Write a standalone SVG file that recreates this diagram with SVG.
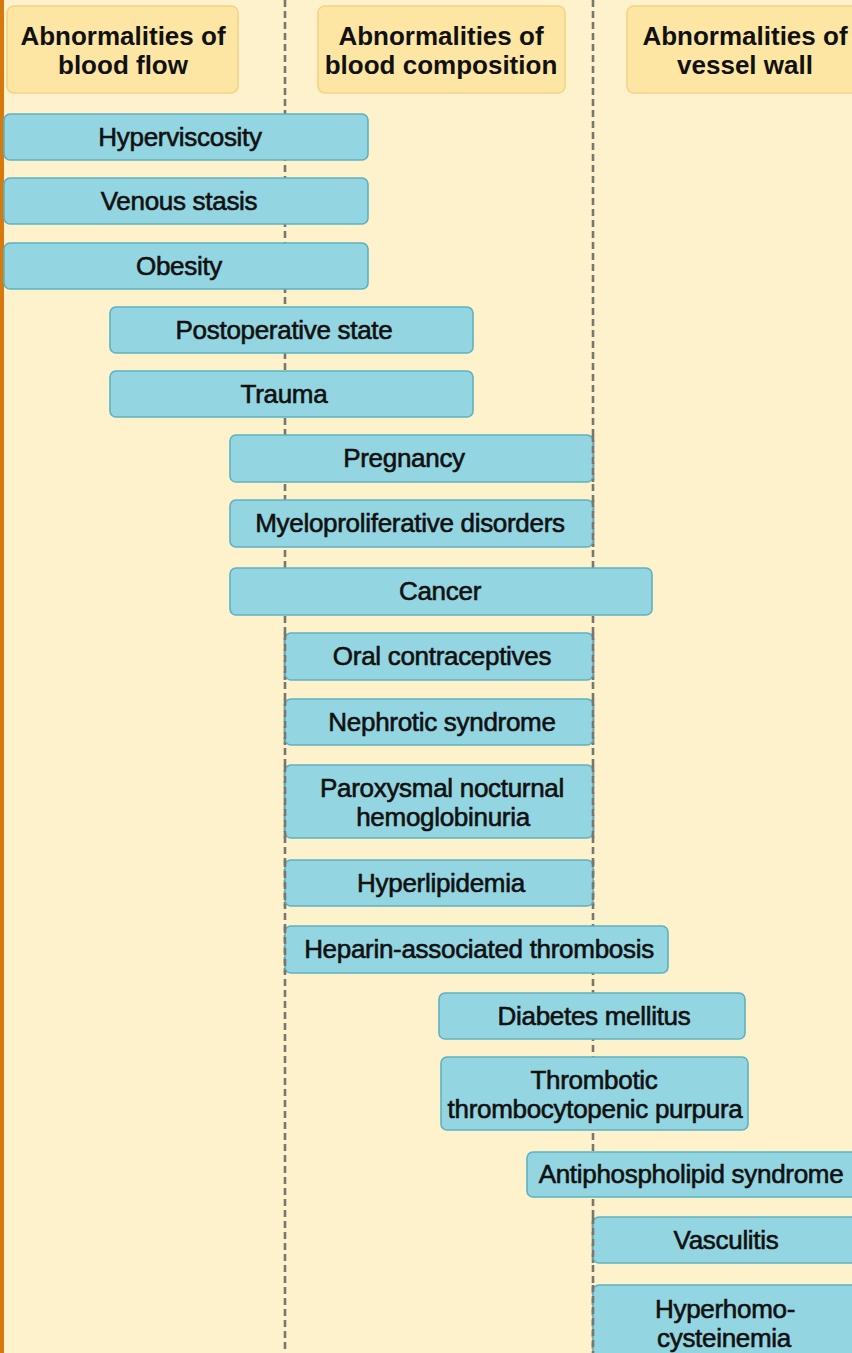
<svg xmlns="http://www.w3.org/2000/svg" width="852" height="1353" viewBox="0 0 852 1353">
<style>
.box{fill:#93D5E0;stroke:#5FB1C0;stroke-width:1.6}
.hdr{fill:#FDE6A4;stroke:#F4D384;stroke-width:1.6}
.t{font-family:"Liberation Sans",Arial,sans-serif;font-size:26px;fill:#111;text-anchor:middle;stroke:#111;stroke-width:0.6;letter-spacing:-0.3px}
.h{font-family:"Liberation Sans",Arial,sans-serif;font-size:26px;font-weight:bold;fill:#111;text-anchor:middle}
.dash{stroke:#77776F;stroke-width:2.6;stroke-dasharray:7 4;fill:none}
</style>
<rect x="0" y="0" width="852" height="1353" fill="#FDF2CC"/>
<rect x="0" y="0" width="4" height="1353" fill="#D77A0E"/>
<g id="connectors">
<line class="dash" x1="285" y1="0" x2="285" y2="1353"/>
<line class="dash" x1="593" y1="0" x2="593" y2="1353"/>
</g>
<g id="header-flow"><rect class="hdr" x="7" y="6" width="231" height="87" rx="7"/><text class="h" x="123" y="45">Abnormalities of</text><text class="h" x="123" y="74">blood flow</text></g>
<g id="header-composition"><rect class="hdr" x="318" y="6" width="247" height="87" rx="7"/><text class="h" x="441" y="45">Abnormalities of</text><text class="h" x="441" y="74">blood composition</text></g>
<g id="header-wall"><rect class="hdr" x="627" y="6" width="240" height="87" rx="7"/><text class="h" x="745" y="45">Abnormalities of</text><text class="h" x="745" y="74">vessel wall</text></g>
<g id="hyperviscosity"><rect class="box" x="4" y="114" width="364" height="46" rx="6"/><text class="t" x="180" y="146">Hyperviscosity</text></g>
<g id="venous-stasis"><rect class="box" x="4" y="178" width="364" height="46" rx="6"/><text class="t" x="179" y="210">Venous stasis</text></g>
<g id="obesity"><rect class="box" x="4" y="243" width="364" height="46" rx="6"/><text class="t" x="179" y="275">Obesity</text></g>
<g id="postoperative"><rect class="box" x="110" y="307" width="363" height="46" rx="6"/><text class="t" x="284" y="339">Postoperative state</text></g>
<g id="trauma"><rect class="box" x="110" y="371" width="363" height="46" rx="6"/><text class="t" x="284" y="403">Trauma</text></g>
<g id="pregnancy"><rect class="box" x="230" y="435" width="363" height="47" rx="6"/><text class="t" x="404" y="467">Pregnancy</text><line class="dash" x1="593" y1="435" x2="593" y2="482"/></g>
<g id="myeloproliferative"><rect class="box" x="230" y="500" width="363" height="47" rx="6"/><text class="t" x="410" y="532">Myeloproliferative disorders</text><line class="dash" x1="593" y1="500" x2="593" y2="547"/></g>
<g id="cancer"><rect class="box" x="230" y="568" width="422" height="47" rx="6"/><text class="t" x="440" y="600">Cancer</text></g>
<g id="oral-contraceptives"><rect class="box" x="285" y="633" width="308" height="47" rx="6"/><text class="t" x="442" y="665">Oral contraceptives</text><line class="dash" x1="285" y1="633" x2="285" y2="680"/><line class="dash" x1="593" y1="633" x2="593" y2="680"/></g>
<g id="nephrotic"><rect class="box" x="285" y="699" width="308" height="46" rx="6"/><text class="t" x="442" y="731">Nephrotic syndrome</text><line class="dash" x1="285" y1="699" x2="285" y2="745"/><line class="dash" x1="593" y1="699" x2="593" y2="745"/></g>
<g id="pnh"><rect class="box" x="285" y="765" width="308" height="73" rx="6"/><text class="t" x="442" y="797">Paroxysmal nocturnal</text><text class="t" x="443" y="826">hemoglobinuria</text><line class="dash" x1="285" y1="765" x2="285" y2="838"/><line class="dash" x1="593" y1="765" x2="593" y2="838"/></g>
<g id="hyperlipidemia"><rect class="box" x="285" y="860" width="308" height="46" rx="6"/><text class="t" x="441" y="892">Hyperlipidemia</text><line class="dash" x1="285" y1="860" x2="285" y2="906"/><line class="dash" x1="593" y1="860" x2="593" y2="906"/></g>
<g id="heparin"><rect class="box" x="285" y="926" width="383" height="47" rx="6"/><text class="t" x="479" y="958">Heparin-associated thrombosis</text><line class="dash" x1="285" y1="926" x2="285" y2="973"/></g>
<g id="diabetes"><rect class="box" x="439" y="993" width="306" height="46" rx="6"/><text class="t" x="594" y="1025">Diabetes mellitus</text></g>
<g id="ttp"><rect class="box" x="441" y="1057" width="307" height="73" rx="6"/><text class="t" x="594" y="1089">Thrombotic</text><text class="t" x="595" y="1118">thrombocytopenic purpura</text></g>
<g id="antiphospholipid"><rect class="box" x="527" y="1152" width="340" height="45" rx="6"/><text class="t" x="691" y="1183">Antiphospholipid syndrome</text></g>
<g id="vasculitis"><rect class="box" x="593" y="1217" width="274" height="46" rx="6"/><text class="t" x="726" y="1249">Vasculitis</text><line class="dash" x1="593" y1="1217" x2="593" y2="1263"/></g>
<g id="hyperhomocysteinemia"><rect class="box" x="593" y="1285" width="274" height="90" rx="6"/><text class="t" x="725" y="1318">Hyperhomo-</text><text class="t" x="724" y="1347">cysteinemia</text><line class="dash" x1="593" y1="1285" x2="593" y2="1353"/></g>
</svg>
